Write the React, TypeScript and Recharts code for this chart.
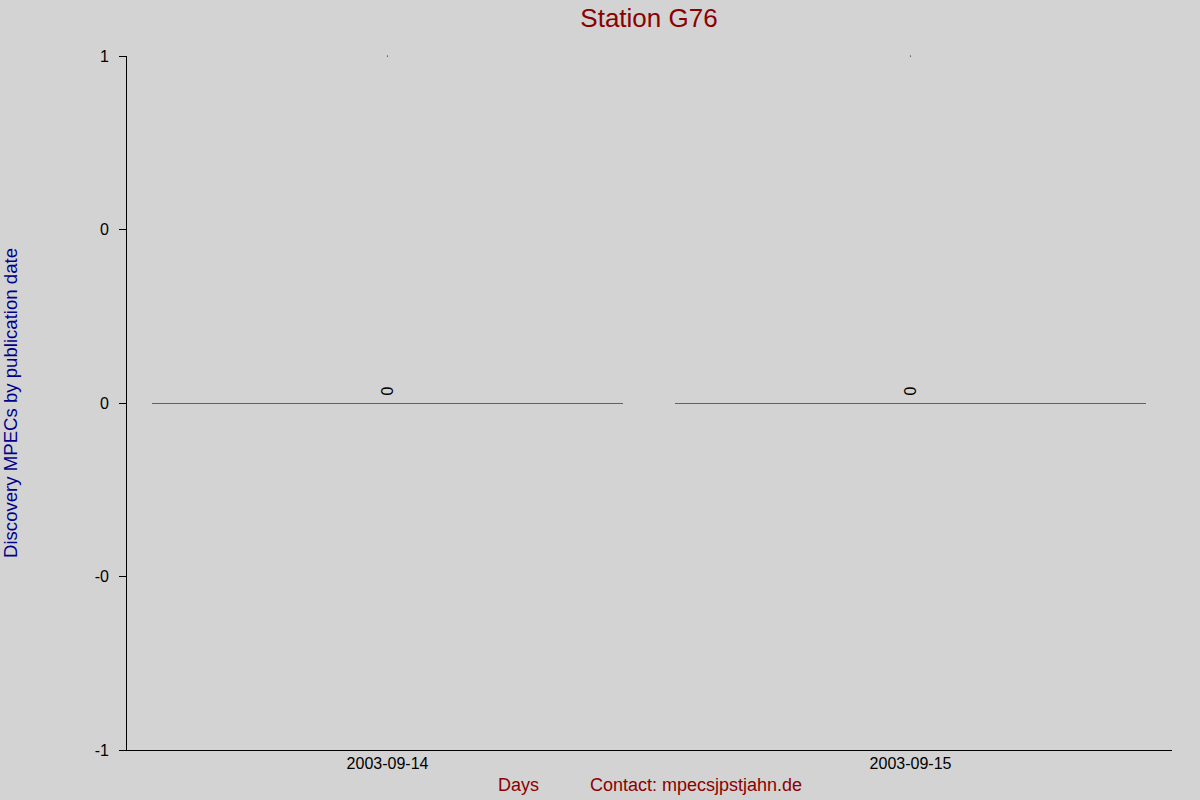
import React from "react";
import { ComposedChart, Bar, Line, XAxis, YAxis, LabelList } from "recharts";

const categories = ["2003-09-14", "2003-09-15"];
const discoveries = [0, 0];
const topMarks = [1, 1];
const yTicks = [-1, -0.5, 0, 0.5, 1];
const yTickLabels = ["-1", "-0", "0", "0", "1"];

const data = categories.map((day, i) => ({ day, value: discoveries[i], top: topMarks[i] }));

const FONT = '"Liberation Sans", Arial, sans-serif';
const DARK_RED = "#8B0000";
const BAR_COLOR = "#B4451D";

const ZeroBar = (props: any) => {
  const { x, y, width, height } = props;
  const yy = Math.round(height > 0 ? y : y + (height || 0));
  return (
    <rect
      x={Math.round(x)}
      y={yy}
      width={Math.round(width)}
      height={Math.max(1, Math.abs(height || 0))}
      fill={BAR_COLOR}
      shapeRendering="crispEdges"
    />
  );
};

const RotLabel = (props: any) => {
  const { x, y, width, value } = props;
  const cx = x + width / 2;
  const cy = y - 12;
  return (
    <text
      x={cx}
      y={cy}
      transform={`rotate(-90, ${cx}, ${cy})`}
      textAnchor="middle"
      dominantBaseline="central"
      fontSize={16}
      fontFamily={FONT}
      fill="#000"
    >
      {value}
    </text>
  );
};

export default function App() {
  return (
    <div
      style={{
        position: "fixed",
        left: 0,
        top: 0,
        width: 1200,
        height: 800,
        background: "#D3D3D3",
        fontFamily: FONT,
      }}
    >
      <div
        style={{
          position: "absolute",
          left: 449,
          width: 400,
          top: 2,
          textAlign: "center",
          fontSize: 26,
          color: DARK_RED,
          lineHeight: "32px",
        }}
      >
        Station G76
      </div>
      <div
        style={{
          position: "absolute",
          left: 11,
          top: 403,
          transform: "translate(-50%, -50%) rotate(-90deg)",
          whiteSpace: "nowrap",
          fontSize: 18.6,
          color: "#00008B",
          lineHeight: "22px",
        }}
      >
        Discovery MPECs by publication date
      </div>
      <div
        style={{
          position: "absolute",
          left: 498,
          top: 774,
          fontSize: 18,
          color: DARK_RED,
          lineHeight: "22px",
          whiteSpace: "nowrap",
        }}
      >
        Days
      </div>
      <div
        style={{
          position: "absolute",
          left: 590,
          top: 774,
          fontSize: 18,
          color: DARK_RED,
          lineHeight: "22px",
          whiteSpace: "nowrap",
        }}
      >
        Contact: mpecsjpstjahn.de
      </div>
      <div style={{ position: "absolute", left: 0, top: 0 }}>
        <ComposedChart
          width={1200}
          height={800}
          data={data}
          margin={{ top: 56, right: 28, bottom: 20, left: 0 }}
          barCategoryGap="5%"
        >
          <XAxis
            dataKey="day"
            axisLine={{ stroke: "#000", strokeWidth: 1, shapeRendering: "crispEdges" }}
            tickLine={false}
            tickSize={0}
            tickMargin={8}
            height={30}
            tick={{ fill: "#000", fontSize: 16, fontFamily: FONT }}
          />
          <YAxis
            type="number"
            domain={[-1, 1]}
            ticks={yTicks}
            interval={0}
            width={126}
            axisLine={{ stroke: "#000", strokeWidth: 1, shapeRendering: "crispEdges" }}
            tickLine={{ stroke: "#000", strokeWidth: 1, shapeRendering: "crispEdges" }}
            tickSize={7}
            tickMargin={10}
            tick={{ fill: "#000", fontSize: 16, fontFamily: FONT }}
            tickFormatter={(v: number) => yTickLabels[yTicks.indexOf(v)]}
          />
          <Bar dataKey="value" shape={<ZeroBar />} isAnimationActive={false}>
            <LabelList dataKey="value" content={<RotLabel />} />
          </Bar>
          <Line
            dataKey="top"
            stroke="none"
            dot={{ r: 0.6, fill: "#000", stroke: "none" }}
            activeDot={false}
            isAnimationActive={false}
          />
        </ComposedChart>
      </div>
    </div>
  );
}
